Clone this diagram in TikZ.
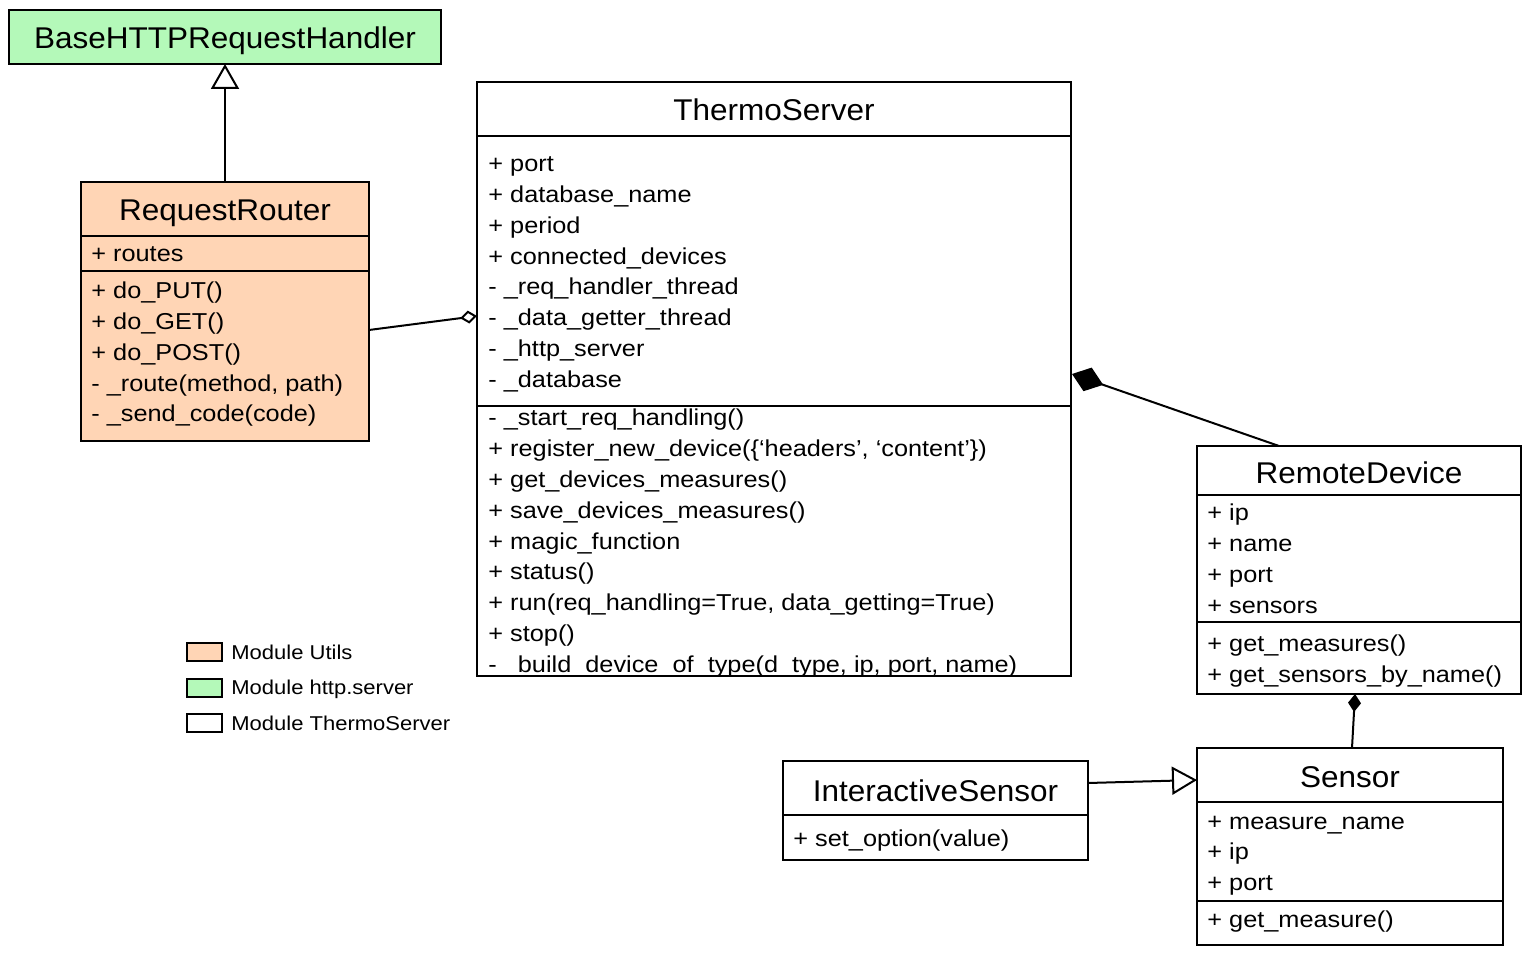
\documentclass[tikz,border=0pt]{standalone}
\usepackage{fontspec}
\setmainfont[FakeStretch=1.1]{Liberation Sans}
\newfontfamily\titlefont[FakeStretch=1.05]{Liberation Sans}
\usetikzlibrary{arrows.meta}
\definecolor{utilsfill}{HTML}{FFD5B5}
\definecolor{httpfill}{HTML}{B4F9B9}
\tikzset{
  classbox/.style={draw, line width=1pt, inner sep=0pt, outer sep=0pt, anchor=north west},
  classname/.style={anchor=base, inner sep=0pt, font=\titlefont\fontsize{15}{17}\selectfont},
  member/.style={anchor=base west, inner sep=0pt, font=\fontsize{11.5}{13}\selectfont},
  legendtext/.style={anchor=base west, inner sep=0pt, font=\fontsize{10}{12}\selectfont},
  link/.style={line width=1pt},
  inherit/.style={link, -{Triangle[open, length=12.5pt, width=14pt, line width=1pt]}},
  aggreg/.style={link, -{Diamond[open, length=8.5pt, width=6.5pt, line width=1pt]}},
  compos/.style={link, -{Diamond[length=16.5pt, width=12.5pt]}},
  composs/.style={link, -{Diamond[length=9pt, width=6.5pt]}},
}
\begin{document}
\begin{tikzpicture}[x=0.5pt, y=-0.5pt]
  \useasboundingbox (0,0) rectangle (1530,956);

  % http.server
  \node[classbox, fill=httpfill, minimum width=216pt, minimum height=27pt] (base) at (9,10) {};
  \node[classname] at (225,49) {BaseHTTPRequestHandler};

  % RequestRouter
  \node[classbox, fill=utilsfill, minimum width=144pt, minimum height=129.5pt] (router) at (81,182) {};
  \node[classname] at (225,221) {RequestRouter};
  \draw[link] (router.west |- 0,236) -- (router.east |- 0,236);
  \draw[link] (router.west |- 0,271) -- (router.east |- 0,271);
  \node[member] at (91,262) {+ routes};
  \node[member] at (91,299) {+ do\_PUT()};
  \node[member] at (91,329.75) {+ do\_GET()};
  \node[member] at (91,360.5) {+ do\_POST()};
  \node[member] at (91,391.25) {- \_route(method, path)};
  \node[member] at (91,422) {- \_send\_code(code)};

  % ThermoServer
  \node[classbox, minimum width=297pt, minimum height=297pt] (thermo) at (477,82) {};
  \node[classname] at (774,121) {ThermoServer};
  \draw[link] (thermo.west |- 0,136) -- (thermo.east |- 0,136);
  \draw[link] (thermo.west |- 0,406) -- (thermo.east |- 0,406);
  \foreach \txt [count=\i from 0] in {+ port, + database\_name, + period, + connected\_devices,
      - \_req\_handler\_thread, - \_data\_getter\_thread, - \_http\_server, - \_database}
    \node[member] at (488,172+30.75*\i) {\txt};
  \foreach \txt [count=\i from 0] in {- \_start\_req\_handling(),
      {+ register\_new\_device(\{`headers', `content'\})},
      + get\_devices\_measures(), + save\_devices\_measures(), + magic\_function, + status(),
      {+ run(req\_handling=True, data\_getting=True)}, + stop(),
      {- \_build\_device\_of\_type(d\_type, ip, port, name)}}
    \node[member] at (488,426+30.75*\i) {\txt};

  % RemoteDevice
  \node[classbox, minimum width=162pt, minimum height=124pt] (remote) at (1197,446) {};
  \node[classname] at (1359,484) {RemoteDevice};
  \draw[link] (remote.west |- 0,495) -- (remote.east |- 0,495);
  \draw[link] (remote.west |- 0,622) -- (remote.east |- 0,622);
  \foreach \txt [count=\i from 0] in {+ ip, + name, + port, + sensors}
    \node[member] at (1207,521+30.75*\i) {\txt};
  \node[member] at (1207,651) {+ get\_measures()};
  \node[member] at (1207,682) {+ get\_sensors\_by\_name()};

  % Sensor
  \node[classbox, minimum width=153pt, minimum height=98.5pt] (sensor) at (1197,748) {};
  \node[classname] at (1350,787) {Sensor};
  \draw[link] (sensor.west |- 0,802) -- (sensor.east |- 0,802);
  \draw[link] (sensor.west |- 0,901) -- (sensor.east |- 0,901);
  \foreach \txt [count=\i from 0] in {+ measure\_name, + ip, + port}
    \node[member] at (1207,829+30.5*\i) {\txt};
  \node[member] at (1207,927) {+ get\_measure()};

  % InteractiveSensor
  \node[classbox, minimum width=152.5pt, minimum height=49.5pt] (isensor) at (783,761) {};
  \node[classname] at (935.5,801) {InteractiveSensor};
  \draw[link] (isensor.west |- 0,815) -- (isensor.east |- 0,815);
  \node[member] at (793,846) {+ set\_option(value)};

  % relations
  \draw[inherit] (router.north) -- (base.south);
  \draw[aggreg] (router.east |- 0,330) -- (thermo.west |- 0,316);
  \draw[compos] (1279,0 |- remote.north) -- (1072,374);
  \draw[composs] (1352,0 |- sensor.north) -- (1355,0 |- remote.south);
  \draw[inherit] (isensor.east |- 0,783) -- (sensor.west |- 0,780);

  % legend
  \node[classbox, fill=utilsfill, minimum width=17.5pt, minimum height=9pt] (legutils) at (187,643) {};
  \node[classbox, fill=httpfill, minimum width=17.5pt, minimum height=9pt] (leghttp) at (187,679) {};
  \node[classbox, minimum width=17.5pt, minimum height=9pt] (legthermo) at (187,714) {};
  \node[legendtext] at (231,659) {Module Utils};
  \node[legendtext] at (231,694) {Module http.server};
  \node[legendtext] at (231,730) {Module ThermoServer};
\end{tikzpicture}
\end{document}
